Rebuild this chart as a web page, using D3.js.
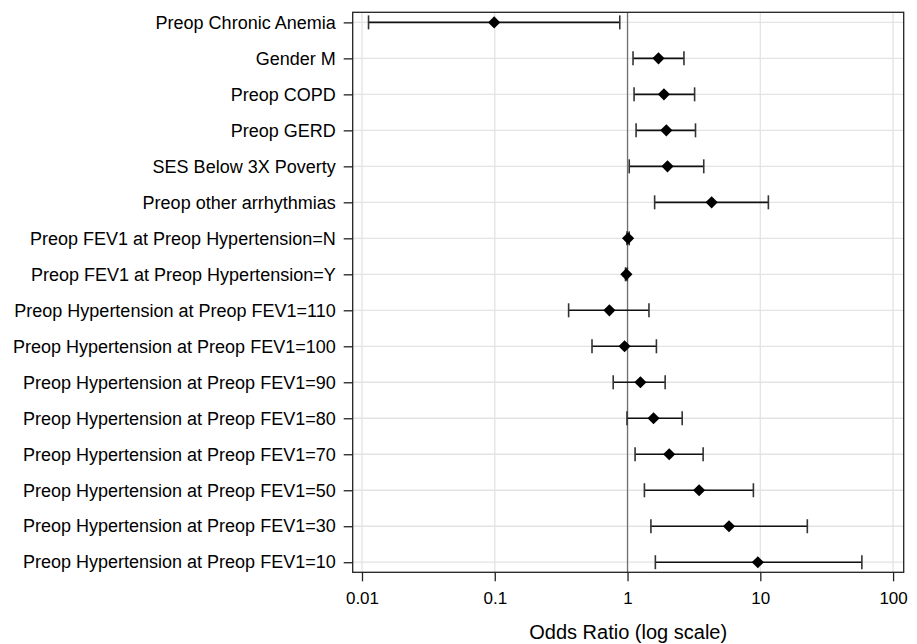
<!DOCTYPE html>
<html>
<head>
<meta charset="utf-8">
<script src="https://cdn.jsdelivr.net/npm/d3@7"></script>
<style>
  body { margin: 0; background: #fff; }
  svg { display: block; font-family: "Liberation Sans", Arial, sans-serif; }
</style>
</head>
<body>
<div id="chart"></div>
<script>
// Rows top to bottom
const labels = [
    "Preop Chronic Anemia",
    "Gender M",
    "Preop COPD",
    "Preop GERD",
    "SES Below 3X Poverty",
    "Preop other arrhythmias",
    "Preop FEV1 at Preop Hypertension=N",
    "Preop FEV1 at Preop Hypertension=Y",
    "Preop Hypertension at Preop FEV1=110",
    "Preop Hypertension at Preop FEV1=100",
    "Preop Hypertension at Preop FEV1=90",
    "Preop Hypertension at Preop FEV1=80",
    "Preop Hypertension at Preop FEV1=70",
    "Preop Hypertension at Preop FEV1=50",
    "Preop Hypertension at Preop FEV1=30",
    "Preop Hypertension at Preop FEV1=10"
];
const oddsRatio = [0.099, 1.71, 1.88, 1.96, 2.0, 4.3, 1.01, 0.98, 0.73, 0.95, 1.25, 1.57, 2.06, 3.46, 5.81, 9.58];
const lowerCI   = [0.0112, 1.10, 1.12, 1.16, 1.03, 1.6, 0.99, 0.965, 0.36, 0.54, 0.78, 0.99, 1.14, 1.34, 1.50, 1.62];
const upperCI   = [0.874, 2.66, 3.20, 3.25, 3.75, 11.5, 1.03, 0.995, 1.45, 1.65, 1.92, 2.58, 3.71, 8.87, 22.6, 58.2];

const tickValues = [0.01, 0.1, 1, 10, 100];
const tickLabels = ["0.01", "0.1", "1", "10", "100"];
const xTitle = "Odds Ratio (log scale)";

const W = 917, H = 644;
const margin = { top: 12.3, right: 13.3, bottom: 71.7, left: 352.7 };
const width = W - margin.left - margin.right;
const height = H - margin.top - margin.bottom;

const rows = labels.map((l, i) => ({ label: l, or: oddsRatio[i], lo: lowerCI[i], hi: upperCI[i] }));

const svg = d3.select("#chart").append("svg")
    .attr("width", W)
    .attr("height", H);

const g = svg.append("g")
    .attr("transform", `translate(${margin.left},${margin.top})`);

// Scales
const x = d3.scaleLog()
    .domain([Math.pow(10, -2.07), Math.pow(10, 2.08)])
    .range([0, width]);

const y = d3.scalePoint()
    .domain(labels)
    .range([0, height])
    .padding(0.28);

// Grid lines
g.append("g")
    .selectAll("line")
    .data(labels)
    .enter().append("line")
    .attr("x1", 0).attr("x2", width)
    .attr("y1", d => y(d)).attr("y2", d => y(d))
    .attr("stroke", "#e3e3e3")
    .attr("stroke-width", 1.3);

g.append("g")
    .selectAll("line")
    .data(tickValues)
    .enter().append("line")
    .attr("x1", d => x(d)).attr("x2", d => x(d))
    .attr("y1", 0).attr("y2", height)
    .attr("stroke", "#e3e3e3")
    .attr("stroke-width", 1.3);

// Reference line at OR = 1
g.append("line")
    .attr("x1", x(1)).attr("x2", x(1))
    .attr("y1", 0).attr("y2", height)
    .attr("stroke", "#707070")
    .attr("stroke-width", 1.3);

// Whiskers
g.append("g")
    .selectAll("line")
    .data(rows)
    .enter().append("line")
    .attr("x1", d => x(d.lo)).attr("x2", d => x(d.hi))
    .attr("y1", d => y(d.label)).attr("y2", d => y(d.label))
    .attr("stroke", "#111")
    .attr("stroke-width", 1.6);

// Caps
const caps = g.append("g");
rows.forEach(d => {
    [d.lo, d.hi].forEach(v => {
        caps.append("line")
            .attr("x1", x(v)).attr("x2", x(v))
            .attr("y1", y(d.label) - 7).attr("y2", y(d.label) + 7)
            .attr("stroke", "#333")
            .attr("stroke-width", 1.6);
    });
});

// Diamonds
const diamond = d3.symbol().type(d3.symbolSquare).size(74);
g.append("g")
    .selectAll("path")
    .data(rows)
    .enter().append("path")
    .attr("d", diamond)
    .attr("transform", d => `translate(${x(d.or)},${y(d.label)}) rotate(45)`)
    .attr("fill", "#000");

// Axes
const yAxis = g.append("g")
    .call(d3.axisLeft(y).tickSize(9).tickPadding(8));
yAxis.select(".domain").remove();
yAxis.selectAll(".tick line").attr("stroke", "#222").attr("stroke-width", 1.3);
yAxis.selectAll("text")
    .attr("fill", "#000")
    .style("font-size", "18px")
    .style("font-family", "'Liberation Sans', Arial, sans-serif");

const xAxis = g.append("g")
    .attr("transform", `translate(0,${height})`)
    .call(d3.axisBottom(x).tickValues(tickValues).tickFormat((d, i) => tickLabels[i]).tickSize(9).tickPadding(10.7));
xAxis.select(".domain").remove();
xAxis.selectAll(".tick line").attr("stroke", "#222").attr("stroke-width", 1.3);
xAxis.selectAll("text")
    .attr("fill", "#000")
    .style("font-size", "17px")
    .style("font-family", "'Liberation Sans', Arial, sans-serif");

// Plot border
g.append("rect")
    .attr("x", 0).attr("y", 0)
    .attr("width", width).attr("height", height)
    .attr("fill", "none")
    .attr("stroke", "#222")
    .attr("stroke-width", 1.3);

// Axis title
g.append("text")
    .attr("x", width / 2)
    .attr("y", height + 67.2)
    .attr("text-anchor", "middle")
    .attr("fill", "#000")
    .style("font-size", "20px")
    .text(xTitle);
</script>
</body>
</html>
